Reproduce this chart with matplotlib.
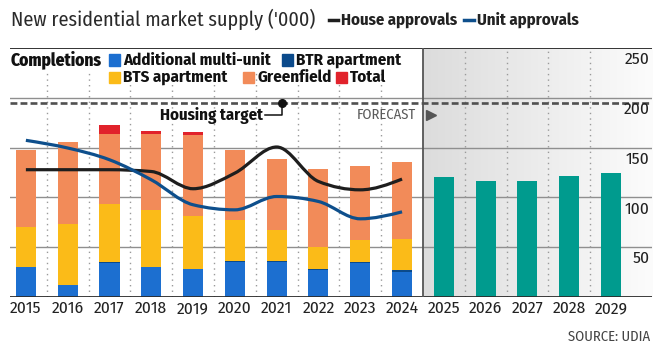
import numpy as np
import matplotlib
matplotlib.use("Agg")
import matplotlib.pyplot as plt
from matplotlib.path import Path
from matplotlib.patches import PathPatch, Rectangle
from matplotlib.lines import Line2D
from matplotlib.colors import LinearSegmentedColormap

# Data ('000)
years = [str(y) for y in range(2015, 2030)]
multi_unit = [29.9, 12.1, 34.5, 29.9, 27.8, 35.1, 35.1, 27.0, 33.7, 24.8]
btr = [0, 0, 1.0, 0, 0, 1.5, 1.5, 1.5, 1.5, 2.0]
bts = [40.2, 61.0, 58.1, 57.0, 53.7, 40.9, 30.5, 22.1, 21.8, 31.2]
greenfield = [77.1, 82.2, 69.7, 76.4, 80.8, 70.4, 71.7, 78.2, 74.8, 77.1]
total_extra = [0, 0, 9.4, 3.7, 3.7, 0, 0, 0, 0, 0]
forecast = [120.0, 116.4, 116.7, 121.7, 124.0]
house_approvals = [127.8, 127.8, 127.8, 126.0, 108.7, 124.4, 150.6, 116.0, 107.6, 118.4]
unit_approvals = [157.3, 149.6, 137.8, 117.7, 92.6, 87.5, 100.9, 95.9, 78.5, 85.5]
housing_target = 195
yticks = [50, 100, 150, 200, 250]

C_MULTI = "#1c6fd0"
C_BTR = "#0b4a8b"
C_BTS = "#fbbb18"
C_GREEN = "#f28b59"
C_TOTAL = "#e1222b"
C_FORE = "#009b8e"
C_HOUSE = "#1e1e1e"
C_UNIT = "#0e4f8c"

plt.rcParams["font.family"] = ["Fira Sans Condensed", "Roboto Condensed", "DejaVu Sans"]

W, H = 672, 356


def fx(x):
    return x / W


def fy(y):
    return 1 - y / H


def monotone_path(xs, ys):
    # monotone cubic (like d3.curveMonotoneX) drawn as bezier segments
    xs = np.asarray(xs, float)
    ys = np.asarray(ys, float)
    n = len(xs)
    h = np.diff(xs)
    s = np.diff(ys) / h
    m = np.zeros(n)
    for i in range(1, n - 1):
        p = (s[i - 1] * h[i] + s[i] * h[i - 1]) / (h[i - 1] + h[i])
        m[i] = (np.sign(s[i - 1]) + np.sign(s[i])) * min(abs(s[i - 1]), abs(s[i]), 0.5 * abs(p))
    m[0] = (3 * s[0] - m[1]) / 2
    m[-1] = (3 * s[-1] - m[-2]) / 2
    verts = [(xs[0], ys[0])]
    codes = [Path.MOVETO]
    for i in range(n - 1):
        d = h[i] / 3
        verts += [(xs[i] + d, ys[i] + m[i] * d),
                  (xs[i + 1] - d, ys[i + 1] - m[i + 1] * d),
                  (xs[i + 1], ys[i + 1])]
        codes += [Path.CURVE4] * 3
    return Path(verts, codes)


fig = plt.figure(figsize=(W / 100, H / 100), dpi=100)
ax = fig.add_axes([fx(10), fy(297), (652 - 10) / W, (297 - 48) / H])
x0, x1 = -0.38, 14.98
ax.set_xlim(x0, x1)
ax.set_ylim(0, 250)
for sp in ax.spines.values():
    sp.set_visible(False)

# forecast shading
cmap = LinearSegmentedColormap.from_list("fc", ["#dcdcdc", "#fcfcfc"])
ax.imshow(np.linspace(0, 1, 256).reshape(1, -1), cmap=cmap, aspect="auto",
          extent=[9.5, x1, 0, 250], zorder=0)

# gridlines
for v in [50, 100, 150, 200]:
    ax.axhline(v, color="#8f8f8f", lw=1.0, zorder=0.5)
ax.axhline(250, color="#333333", lw=1.4, zorder=3)
ax.axhline(0, color="#2a2a2a", lw=2.0, zorder=3)

for i in range(14):
    xv = i + 0.5
    if i == 9:
        ax.plot([xv, xv], [0, 250], color="#555555", lw=1.3, zorder=3)
    else:
        top = 225 if i < 9 else 250
        ax.plot([xv, xv], [0, top], color="#9a9a9a", lw=1.0,
                ls=(0, (1, 3)), zorder=0.6)

# stacked bars
xh = np.arange(len(multi_unit))
bw = 0.48
bottom = np.zeros(len(xh))
for vals, col in [(multi_unit, C_MULTI), (btr, C_BTR), (bts, C_BTS),
                  (greenfield, C_GREEN), (total_extra, C_TOTAL)]:
    ax.bar(xh, vals, bw, bottom=bottom, color=col, zorder=2, linewidth=0)
    bottom += np.asarray(vals)

xf = np.arange(len(multi_unit), len(years))
ax.bar(xf, forecast, bw, color=C_FORE, zorder=2, linewidth=0)

# approval lines
ax.add_patch(PathPatch(monotone_path(xh, house_approvals), fill=False,
                       edgecolor=C_HOUSE, lw=2.3, zorder=4, capstyle="butt"))
ax.add_patch(PathPatch(monotone_path(xh, unit_approvals), fill=False,
                       edgecolor=C_UNIT, lw=2.3, zorder=4, capstyle="butt"))

# housing target
ax.axhline(housing_target, color="#505050", lw=1.9, ls=(0, (2.6, 1.2)), zorder=3)
ax.plot([6.12], [housing_target], "o", color="#111111", ms=5.5, zorder=5)
ax.plot([6.12, 6.12, 5.72], [housing_target, 182.5, 182.5], color="#111111",
        lw=1.1, zorder=5)
ax.text(5.68, 182.5, "Housing target", ha="right", va="center",
        fontsize=12, fontweight="bold", color="#111111", zorder=5)
ax.text(9.33, 182.5, "FORECAST", ha="right", va="center", fontsize=10.5,
        color="#5a5a5a", zorder=5)
ax.plot([9.69], [182.5], marker=">", color="#555555", ms=7, zorder=5)

# axis labels
ax.set_xticks(range(len(years)))
ax.set_xticklabels(years, fontsize=12.5, color="#222222")
ax.tick_params(axis="x", length=0, pad=2.5)
ax.set_yticks([])
for v in yticks:
    ax.annotate(str(v), xy=(1, v), xycoords=("axes fraction", "data"),
                xytext=(-2, -2.5), textcoords="offset points",
                ha="right", va="top", fontsize=12.5, color="#222222")

# title and line legend
fig.text(fx(11), fy(19), "New residential market supply ('000)",
         fontsize=14.5, color="#2a2a2a", va="center", ha="left")
fig.add_artist(Line2D([fx(329), fx(338)], [fy(20), fy(20)], color=C_HOUSE, lw=2.5))
fig.text(fx(341), fy(20), "House approvals", fontsize=12, fontweight="bold",
         color="#222222", va="center", ha="left")
fig.add_artist(Line2D([fx(464), fx(474)], [fy(20), fy(20)], color=C_UNIT, lw=2.5))
fig.text(fx(477), fy(20), "Unit approvals", fontsize=12, fontweight="bold",
         color="#222222", va="center", ha="left")

# completions legend
fig.text(fx(11), fy(60), "Completions", fontsize=12.5, fontweight="heavy",
         color="#111111", va="center", ha="left")
items = [(109, 60, C_MULTI, "Additional multi-unit"),
         (282, 60, C_BTR, "BTR apartment"),
         (109, 77, C_BTS, "BTS apartment"),
         (243, 77, C_GREEN, "Greenfield"),
         (336, 77, C_TOTAL, "Total")]
for px, py, col, lab in items:
    fig.add_artist(Rectangle((fx(px), fy(py + 5.5)), 11 / W, 11 / H,
                             color=col, transform=fig.transFigure))
    fig.text(fx(px + 14), fy(py), lab, fontsize=12.2, fontweight="bold",
             color="#111111", va="center", ha="left")

fig.text(fx(650), fy(337), "SOURCE: UDIA", fontsize=10.5, color="#444444",
         ha="right", va="center")

fig.savefig("out.png", dpi=100)
